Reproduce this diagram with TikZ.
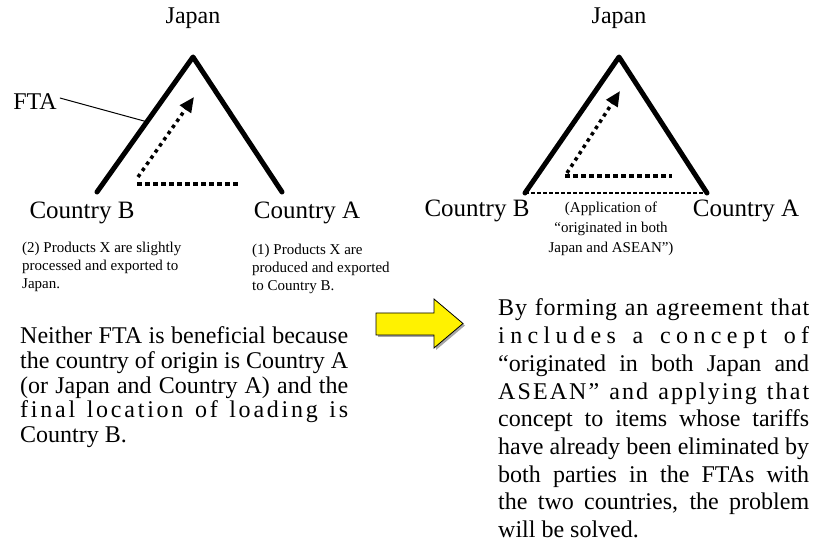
\documentclass[tikz,border=0pt]{standalone}
\usepackage{fontspec}
\setmainfont{Liberation Serif}
\usetikzlibrary{arrows.meta,calc}
\ExplSyntaxOn
\NewDocumentCommand \spreadline { m m }
  { \makebox[#1][s]{ \tl_map_inline:nn {#2} { ##1 \hfill } \unskip } }
\ExplSyntaxOff
\newcommand\justline[2]{\makebox[#1][s]{#2}}
\tikzset{
  toplabel/.style={font=\fontsize{24}{24}\selectfont, inner sep=0pt},
  country/.style={font=\fontsize{25}{25}\selectfont, inner sep=0pt, anchor=base},
  smalltxt/.style={font=\fontsize{15}{18}\selectfont, inner sep=0pt, anchor=base west},
  smallc/.style={font=\fontsize{15}{18}\selectfont, inner sep=0pt, anchor=base},
  para/.style={font=\fontsize{24}{24}\selectfont, inner sep=0pt, anchor=base west},
  ftaline/.style={line width=5pt, line cap=round, line join=round},
  dotarrow/.style={line width=3.5pt, dash pattern=on 3.5pt off 4pt,
    -{Triangle[length=15pt,width=13pt]}},
  dotline/.style={line width=4pt, dash pattern=on 5pt off 3pt},
  yarrow/.style={fill=yellow, draw=black, line width=0.8pt, line join=miter},
}
\begin{document}
\begin{tikzpicture}[x=1pt,y=-1pt]
\useasboundingbox (0,0) rectangle (815,548);
% ---------- left triangle ----------
\coordinate (la) at (193,57);
\coordinate (lb) at (97,192);
\coordinate (lc) at (282,192);
\draw[ftaline] (lb) -- (la) -- (lc);
\node[toplabel] (japanL) at (193,18) {Japan};
\node[toplabel] (fta) at (35,102) {FTA};
\coordinate (ftapt) at ($(lb)!0.52!(la)$);
\draw[line width=1pt] (fta.east) ++(3,-4) coordinate (ftastart) -- (ftapt);
\coordinate (ls) at (138,177);
\coordinate (lt) at (194,97);
\draw[dotarrow] (ls) -- (lt);
\coordinate (lh1) at (137,184);
\coordinate (lh2) at (238,184);
\draw[dotline] (lh1) -- (lh2);
\node[country] (cbL) at (82,219) {Country B};
\node[country] (caL) at (307,219) {Country A};
\node[smalltxt] (s2a) at (22,253) {(2) Products X are slightly};
\node[smalltxt] (s2b) at (22,271) {processed and exported to};
\node[smalltxt] (s2c) at (22,289) {Japan.};
\node[smalltxt] (s1a) at (252,255) {(1) Products X are};
\node[smalltxt] (s1b) at (252,273) {produced and exported};
\node[smalltxt] (s1c) at (252,291) {to Country B.};
% ---------- right triangle ----------
\coordinate (ra) at (619,57);
\coordinate (rb) at (525,193);
\coordinate (rc) at (707,193);
\draw[line width=1.5pt, dash pattern=on 4pt off 2pt] (rb) -- (rc);
\draw[ftaline] (rb) -- (ra) -- (rc);
\node[toplabel] (japanR) at (619,18) {Japan};
\coordinate (rs) at (567,173);
\coordinate (rt) at (620,91);
\draw[dotarrow] (rs) -- (rt);
\coordinate (rh1) at (565,176);
\coordinate (rh2) at (672,176);
\draw[dotline] (rh1) -- (rh2);
\node[country] (cbR) at (477,217) {Country B};
\node[country] (caR) at (746,217) {Country A};
\node[smallc] (ap1) at (611,213) {(Application of};
\node[smallc] (ap2) at (611,233) {“originated in both};
\node[smallc] (ap3) at (611,253) {Japan and ASEAN”)};
% ---------- yellow arrow ----------
\fill[black!35] (378,315) -- (436,315) -- (436,301) -- (465,325.5) -- (436,350) -- (436,337) -- (378,337) -- cycle;
\draw[yarrow] (376,313) -- (434,313) -- (434,299) -- (463,323.5) -- (434,348) -- (434,335) -- (376,335) -- cycle;
% ---------- left paragraph ----------
\node[para] (l1) at (20,344) {\justline{328pt}{Neither FTA is beneficial because}};
\node[para] (l2) at (20,368.6) {\justline{328pt}{the country of origin is Country A}};
\node[para] (l3) at (20,393.2) {\justline{328pt}{(or Japan and Country A) and the}};
\node[para] (l4) at (20,417.8) {\spreadline{328pt}{final~location~of~loading~is}};
\node[para] (l5) at (20,442.4) {Country B.};
% ---------- right paragraph ----------
\node[para] (r1) at (498,316) {\spreadline{311pt}{By~forming~an~agreement~that}};
\node[para] (r2) at (498,343.7) {\spreadline{311pt}{includes~a~concept~of}};
\node[para] (r3) at (498,371.4) {\justline{311pt}{“originated in both Japan and}};
\node[para] (r4) at (498,399.1) {\spreadline{311pt}{ASEAN”~and~applying~that}};
\node[para] (r5) at (498,426.8) {\justline{311pt}{concept to items whose tariffs}};
\node[para] (r6) at (498,454.5) {\justline{311pt}{have already been eliminated by}};
\node[para] (r7) at (498,482.2) {\justline{311pt}{both parties in the FTAs with}};
\node[para] (r8) at (498,509.9) {\justline{311pt}{the two countries, the problem}};
\node[para] (r9) at (498,537.6) {will be solved.};
\end{tikzpicture}
\end{document}
